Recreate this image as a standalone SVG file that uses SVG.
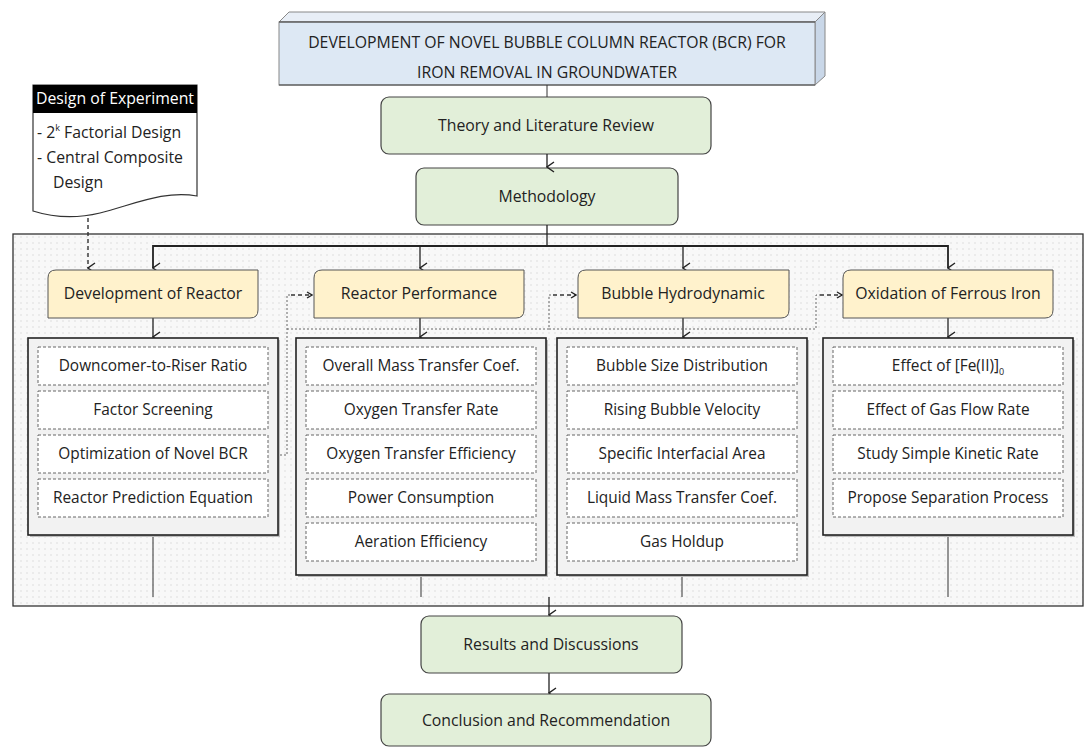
<svg xmlns="http://www.w3.org/2000/svg" width="1085" height="747" viewBox="0 0 1085 747">
<style>
text{font-family:"Open Sans","Noto Sans","Liberation Sans",sans-serif;fill:#222;text-anchor:middle}
.t{font-size:15.8px}
.it{font-size:15.4px}
.title{font-size:15.8px}
.green{fill:#e2efd9;stroke:#444;stroke-width:1.2}
.yel{fill:#fff2cc;stroke:#555;stroke-width:1}
.cbox{fill:#f2f2f2;stroke:#222;stroke-width:1.6}
.shadow{fill:#bdbdbd}
.inner{fill:#fff;stroke:#666;stroke-width:1;stroke-dasharray:3 2}
.ln{fill:none;stroke:#222;stroke-width:1.3}
.thin{fill:none;stroke:#333;stroke-width:1}
.dot{fill:none;stroke:#666;stroke-width:1;stroke-dasharray:2 2}
.dash{fill:none;stroke:#333;stroke-width:1.4;stroke-dasharray:4 3}
</style>
<defs>
<pattern id="dots" width="6" height="6" patternUnits="userSpaceOnUse">
<rect width="6" height="6" fill="#f8f8f8"/>
<circle cx="3" cy="3" r="0.7" fill="#d6d6d6"/>
</pattern>
<marker id="arr" viewBox="0 0 12 10" refX="6" refY="9" markerWidth="12" markerHeight="10" markerUnits="userSpaceOnUse" orient="auto-start-reverse">
<path d="M1,2 L6,9 L11,2" fill="none" stroke="#222" stroke-width="1.4"/>
</marker>
<marker id="arrS" viewBox="0 0 8 8" refX="7" refY="4" markerWidth="8" markerHeight="8" markerUnits="userSpaceOnUse" orient="auto">
<path d="M2,1 L7,4 L2,7" fill="none" stroke="#222" stroke-width="1.4"/>
</marker>
</defs>
<rect width="1085" height="747" fill="#fff"/>

<!-- frame -->
<g id="frame">
<rect x="13" y="234" width="1070" height="372" fill="url(#dots)" stroke="#333" stroke-width="1.3"/>
</g>

<!-- title -->
<g id="title">
<path d="M279,22 L289,12 L825,12 L815,22 Z" fill="#e8eef6" stroke="#888" stroke-width="1"/>
<path d="M815,22 L825,12 L825,76 L815,85 Z" fill="#c9d7e8" stroke="#888" stroke-width="1"/>
<rect x="279" y="22" width="536" height="63" fill="#dde8f4" stroke="#888" stroke-width="1"/>
<line x1="279" y1="22" x2="815" y2="22" stroke="#444" stroke-width="1.2"/>
<line x1="279" y1="85" x2="815" y2="85" stroke="#444" stroke-width="1.2"/>
<text class="title" x="547" y="48">DEVELOPMENT OF NOVEL BUBBLE COLUMN REACTOR (BCR) FOR</text>
<text class="title" x="547" y="78">IRON REMOVAL IN GROUNDWATER</text>
</g>

<g id="theory">
<rect class="green" x="381" y="97" width="330" height="57" rx="8"/>
<text class="t" x="546" y="131">Theory and Literature Review</text>
</g>
<g id="methodology">
<rect class="green" x="416" y="168" width="262" height="57" rx="8"/>
<text class="t" x="547" y="202">Methodology</text>
</g>

<g id="doe">
<path d="M33,85 H197 V196 C165,190 135,204 100,213 C75,219 55,218 33,211 Z" fill="#fff" stroke="#333" stroke-width="1.2"/>
<rect x="33" y="85" width="164" height="28" fill="#000"/>
<text class="t" x="115" y="104" style="fill:#fff">Design of Experiment</text>
<text class="t" x="37" y="138" style="text-anchor:start">- 2<tspan font-size="9" dy="-7">k</tspan><tspan dy="7"> Factorial Design</tspan></text>
<text class="t" x="37" y="163" style="text-anchor:start">- Central Composite</text>
<text class="t" x="53" y="188" style="text-anchor:start">Design</text>
</g>

<!-- connectors -->
<g id="connectors">
<line class="thin" x1="547" y1="85" x2="547" y2="97"/>
<line class="ln" x1="547" y1="154" x2="547" y2="167" marker-end="url(#arr)"/>
<line class="ln" x1="547" y1="225" x2="547" y2="246"/>
<polyline class="ln" points="153,268 153,246 948,246 948,268" marker-start="url(#arr)" marker-end="url(#arr)" style="stroke-width:1.8"/>
<line class="ln" x1="420" y1="246" x2="420" y2="268" marker-end="url(#arr)"/>
<line class="ln" x1="683" y1="246" x2="683" y2="268" marker-end="url(#arr)"/>
<line class="dash" x1="88" y1="218" x2="88" y2="268" marker-end="url(#arr)"/>
<line class="ln" x1="153" y1="318" x2="153" y2="337" marker-end="url(#arr)"/>
<line class="ln" x1="420" y1="318" x2="420" y2="337" marker-end="url(#arr)"/>
<line class="ln" x1="683" y1="318" x2="683" y2="337" marker-end="url(#arr)"/>
<line class="ln" x1="948" y1="318" x2="948" y2="337" marker-end="url(#arr)"/>
<polyline class="dot" points="268,455 287,455 287,295 291,295"/>
<line class="dash" x1="291" y1="295" x2="312" y2="295" marker-end="url(#arrS)"/>
<polyline class="dot" points="287,329 549,329 549,295 553,295"/>
<line class="dash" x1="553" y1="295" x2="576" y2="295" marker-end="url(#arrS)"/>
<polyline class="dot" points="549,329 816,329 816,295 820,295"/>
<line class="dash" x1="820" y1="295" x2="842" y2="295" marker-end="url(#arrS)"/>
<line class="thin" x1="153" y1="535" x2="153" y2="597"/>
<line class="thin" x1="421" y1="575" x2="421" y2="597"/>
<line class="thin" x1="682" y1="575" x2="682" y2="597"/>
<line class="thin" x1="948" y1="535" x2="948" y2="597"/>
<line class="ln" x1="549" y1="597" x2="549" y2="615" marker-end="url(#arr)"/>
<line class="ln" x1="549" y1="673" x2="549" y2="693" marker-end="url(#arr)"/>
</g>

<!-- section headers -->
<g id="dev">
<path class="yel" d="M56,270 H258 V310 Q258,318 250,318 H48 V278 Q48,270 56,270 Z"/>
<text class="t" x="153" y="299">Development of Reactor</text>
</g>
<g id="perf">
<path class="yel" d="M322,270 H524 V310 Q524,318 516,318 H314 V278 Q314,270 322,270 Z"/>
<text class="t" x="419" y="299">Reactor Performance</text>
</g>
<g id="hydro">
<path class="yel" d="M586,270 H789 V310 Q789,318 781,318 H578 V278 Q578,270 586,270 Z"/>
<text class="t" x="683" y="299">Bubble Hydrodynamic</text>
</g>
<g id="oxid">
<path class="yel" d="M851,270 H1053 V310 Q1053,318 1045,318 H843 V278 Q843,270 851,270 Z"/>
<text class="t" x="948" y="299">Oxidation of Ferrous Iron</text>
</g>

<!-- content boxes -->
<g id="dev-items">
<rect class="shadow" x="30" y="340" width="250" height="197"/>
<rect class="cbox" x="28" y="338" width="250" height="197"/>
<rect class="inner" x="38" y="347" width="230" height="38"/>
<rect class="inner" x="38" y="391" width="230" height="38"/>
<rect class="inner" x="38" y="435" width="230" height="38"/>
<rect class="inner" x="38" y="479" width="230" height="38"/>
<text class="it" x="153" y="371">Downcomer-to-Riser Ratio</text>
<text class="it" x="153" y="415">Factor Screening</text>
<text class="it" x="153" y="459">Optimization of Novel BCR</text>
<text class="it" x="153" y="503">Reactor Prediction Equation</text>
</g>
<g id="perf-items">
<rect class="shadow" x="298" y="340" width="250" height="237"/>
<rect class="cbox" x="296" y="338" width="250" height="237"/>
<rect class="inner" x="306" y="347" width="230" height="38"/>
<rect class="inner" x="306" y="391" width="230" height="38"/>
<rect class="inner" x="306" y="435" width="230" height="38"/>
<rect class="inner" x="306" y="479" width="230" height="38"/>
<rect class="inner" x="306" y="523" width="230" height="38"/>
<text class="it" x="421" y="371">Overall Mass Transfer Coef.</text>
<text class="it" x="421" y="415">Oxygen Transfer Rate</text>
<text class="it" x="421" y="459">Oxygen Transfer Efficiency</text>
<text class="it" x="421" y="503">Power Consumption</text>
<text class="it" x="421" y="547">Aeration Efficiency</text>
</g>
<g id="hydro-items">
<rect class="shadow" x="559" y="340" width="250" height="237"/>
<rect class="cbox" x="557" y="338" width="250" height="237"/>
<rect class="inner" x="567" y="347" width="230" height="38"/>
<rect class="inner" x="567" y="391" width="230" height="38"/>
<rect class="inner" x="567" y="435" width="230" height="38"/>
<rect class="inner" x="567" y="479" width="230" height="38"/>
<rect class="inner" x="567" y="523" width="230" height="38"/>
<text class="it" x="682" y="371">Bubble Size Distribution</text>
<text class="it" x="682" y="415">Rising Bubble Velocity</text>
<text class="it" x="682" y="459">Specific Interfacial Area</text>
<text class="it" x="682" y="503">Liquid Mass Transfer Coef.</text>
<text class="it" x="682" y="547">Gas Holdup</text>
</g>
<g id="oxid-items">
<rect class="shadow" x="825" y="340" width="250" height="197"/>
<rect class="cbox" x="823" y="338" width="250" height="197"/>
<rect class="inner" x="833" y="347" width="230" height="38"/>
<rect class="inner" x="833" y="391" width="230" height="38"/>
<rect class="inner" x="833" y="435" width="230" height="38"/>
<rect class="inner" x="833" y="479" width="230" height="38"/>
<text class="it" x="948" y="371">Effect of [Fe(II)]<tspan font-size="9" dy="4">0</tspan></text>
<text class="it" x="948" y="415">Effect of Gas Flow Rate</text>
<text class="it" x="948" y="459">Study Simple Kinetic Rate</text>
<text class="it" x="948" y="503">Propose Separation Process</text>
</g>

<g id="results">
<rect class="green" x="421" y="616" width="261" height="57" rx="8"/>
<text class="t" x="551" y="650">Results and Discussions</text>
</g>
<g id="conclusion">
<rect class="green" x="381" y="694" width="330" height="52" rx="8"/>
<text class="t" x="546" y="726">Conclusion and Recommendation</text>
</g>
</svg>
